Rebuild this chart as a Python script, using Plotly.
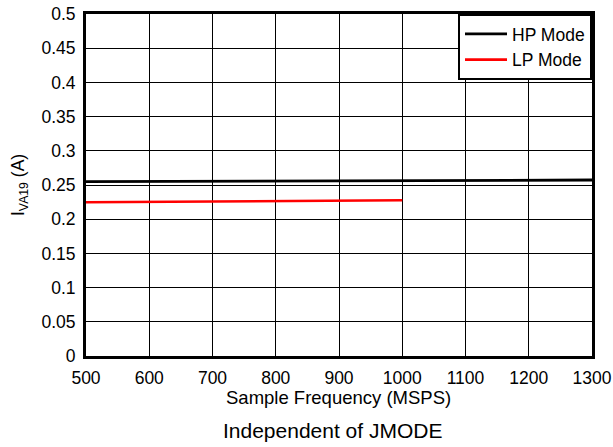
import plotly.graph_objects as go

hp_x = [500, 600, 700, 800, 900, 1000, 1100, 1200, 1300]
hp_y = [0.2548, 0.2551, 0.2554, 0.2557, 0.2560, 0.2563, 0.2566, 0.2570, 0.2573]
lp_x = [500, 600, 700, 800, 900, 1000]
lp_y = [0.2247, 0.2252, 0.2258, 0.2264, 0.2270, 0.2276]

x_ticks = [500, 600, 700, 800, 900, 1000, 1100, 1200, 1300]
y_ticks = [0, 0.05, 0.1, 0.15, 0.2, 0.25, 0.3, 0.35, 0.4, 0.45, 0.5]
y_labels = ["0", "0.05", "0.1", "0.15", "0.2", "0.25", "0.3", "0.35", "0.4", "0.45", "0.5"]

font = "Liberation Sans, Arial, sans-serif"

W, H = 613, 447
L, R, T, B = 86, 21, 14, 91
pw, ph = W - L - R, H - T - B

def px_x(x):
    return (x - L) / pw

def px_y(y):
    return (H - B - y) / ph

fig = go.Figure()
fig.add_trace(go.Scatter(x=hp_x, y=hp_y, mode="lines", name="HP Mode",
                         line=dict(color="black", width=2.8)))
fig.add_trace(go.Scatter(x=lp_x, y=lp_y, mode="lines", name="LP Mode",
                         line=dict(color="#ff0000", width=2.6)))

fig.update_layout(
    width=W, height=H,
    margin=dict(l=L, r=R, t=T, b=B),
    paper_bgcolor="white", plot_bgcolor="white",
    font=dict(family=font, size=17.5, color="black"),
    showlegend=True,
    legend=dict(x=1, y=1, xanchor="right", yanchor="top",
                bgcolor="white", bordercolor="black", borderwidth=2,
                font=dict(size=17.5), tracegroupgap=0, itemwidth=42),
    xaxis=dict(range=[500, 1300], tickvals=x_ticks, ticktext=[str(v) for v in x_ticks],
               showgrid=True, gridcolor="black", gridwidth=1,
               showline=True, linecolor="black", linewidth=3, mirror=True,
               ticks="", zeroline=False, automargin=False, ticklabelstandoff=4),
    yaxis=dict(range=[0, 0.5], tickvals=y_ticks, ticktext=y_labels,
               showgrid=True, gridcolor="black", gridwidth=1,
               showline=True, linecolor="black", linewidth=3, mirror=True,
               ticks="", zeroline=False, automargin=False, ticklabelstandoff=4),
    annotations=[
        dict(text="Sample Frequency (MSPS)", x=px_x(338), y=px_y(397),
             xref="paper", yref="paper", showarrow=False,
             xanchor="center", yanchor="middle", font=dict(size=18.5)),
        dict(text="I<sub>VA19</sub> (A)", x=px_x(19), y=px_y(185),
             xref="paper", yref="paper", showarrow=False, textangle=-90,
             xanchor="center", yanchor="middle", font=dict(size=17.5)),
        dict(text="Independent of JMODE", x=px_x(332), y=px_y(430),
             xref="paper", yref="paper", showarrow=False,
             xanchor="center", yanchor="middle", font=dict(size=21)),
    ],
)

fig.write_html("out.html", config={"displayModeBar": False},
               post_script="document.body.style.margin='0';document.body.style.padding='0';")
